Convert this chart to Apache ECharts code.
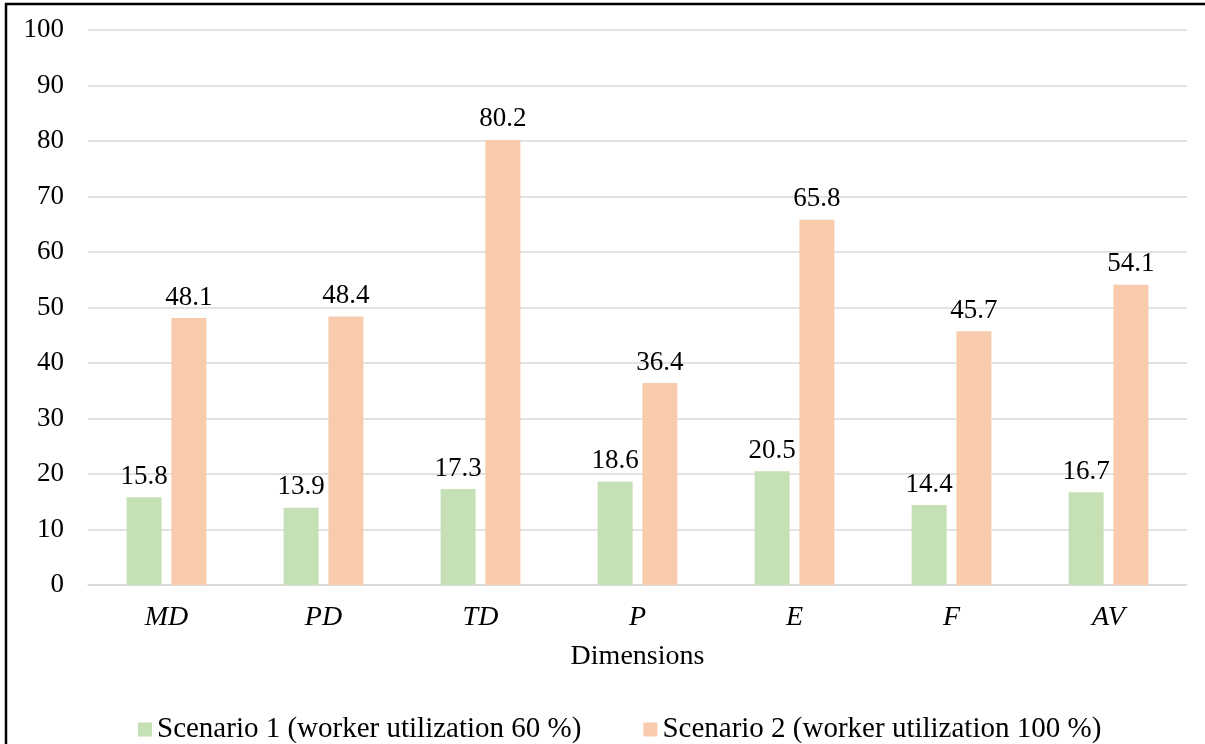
<!DOCTYPE html>
<html>
<head>
<meta charset="utf-8">
<script src="https://cdn.jsdelivr.net/npm/echarts@6/dist/echarts.min.js"></script>
<style>
html, body { margin: 0; padding: 0; background: #fff; }
#chart { width: 1205px; height: 744px; }
</style>
</head>
<body>
<div id="chart"></div>
<script type="text/javascript">
var categories = ['MD', 'PD', 'TD', 'P', 'E', 'F', 'AV'];
var scenario1 = [15.8, 13.9, 17.3, 18.6, 20.5, 14.4, 16.7];
var scenario2 = [48.1, 48.4, 80.2, 36.4, 65.8, 45.7, 54.1];
var seriesNames = ['Scenario 1 (worker utilization 60 %)', 'Scenario 2 (worker utilization 100 %)'];

var font = '"Liberation Serif", "Times New Roman", serif';
var myChart = echarts.init(document.getElementById('chart'));
var option = {
    animation: false,
    textStyle: { fontFamily: font },
    grid: { left: 88, right: 18, top: 30, bottom: 159 },
    legend: {
        top: 710,
        left: 133,
        itemWidth: 14,
        itemHeight: 14,
        itemGap: 62,
        icon: 'rect',
        textStyle: { fontFamily: font, fontSize: 29, color: '#000' },
        data: seriesNames
    },
    xAxis: {
        type: 'category',
        data: categories,
        name: 'Dimensions',
        nameLocation: 'middle',
        nameGap: 58,
        nameTextStyle: { fontFamily: font, fontSize: 28, color: '#000' },
        axisLine: { lineStyle: { color: '#d9d9d9', width: 1.5 } },
        axisTick: { show: false },
        axisLabel: { fontFamily: font, fontSize: 28, fontStyle: 'italic', color: '#000', margin: 19 }
    },
    yAxis: {
        type: 'value',
        min: 0,
        max: 100,
        interval: 10,
        axisLine: { show: false },
        axisTick: { show: false },
        splitLine: { lineStyle: { color: '#d9d9d9', width: 1.5 } },
        axisLabel: { fontFamily: font, fontSize: 27, color: '#000', margin: 24 }
    },
    series: [
        {
            name: seriesNames[0],
            type: 'bar',
            data: scenario1,
            barWidth: 35,
            barGap: '28%',
            itemStyle: { color: '#C5E0B4' },
            label: { show: true, position: 'top', distance: 7, fontFamily: font, fontSize: 27, color: '#000' }
        },
        {
            name: seriesNames[1],
            type: 'bar',
            data: scenario2,
            barWidth: 35,
            itemStyle: { color: '#F8CBAD' },
            label: { show: true, position: 'top', distance: 7, fontFamily: font, fontSize: 27, color: '#000' }
        }
    ],
    graphic: [
        {
            type: 'polyline',
            silent: true,
            shape: { points: [[6, 744], [6, 4], [1205, 4]] },
            style: { stroke: '#000', lineWidth: 2.5, fill: null }
        }
    ]
};
myChart.setOption(option);
</script>
</body>
</html>
